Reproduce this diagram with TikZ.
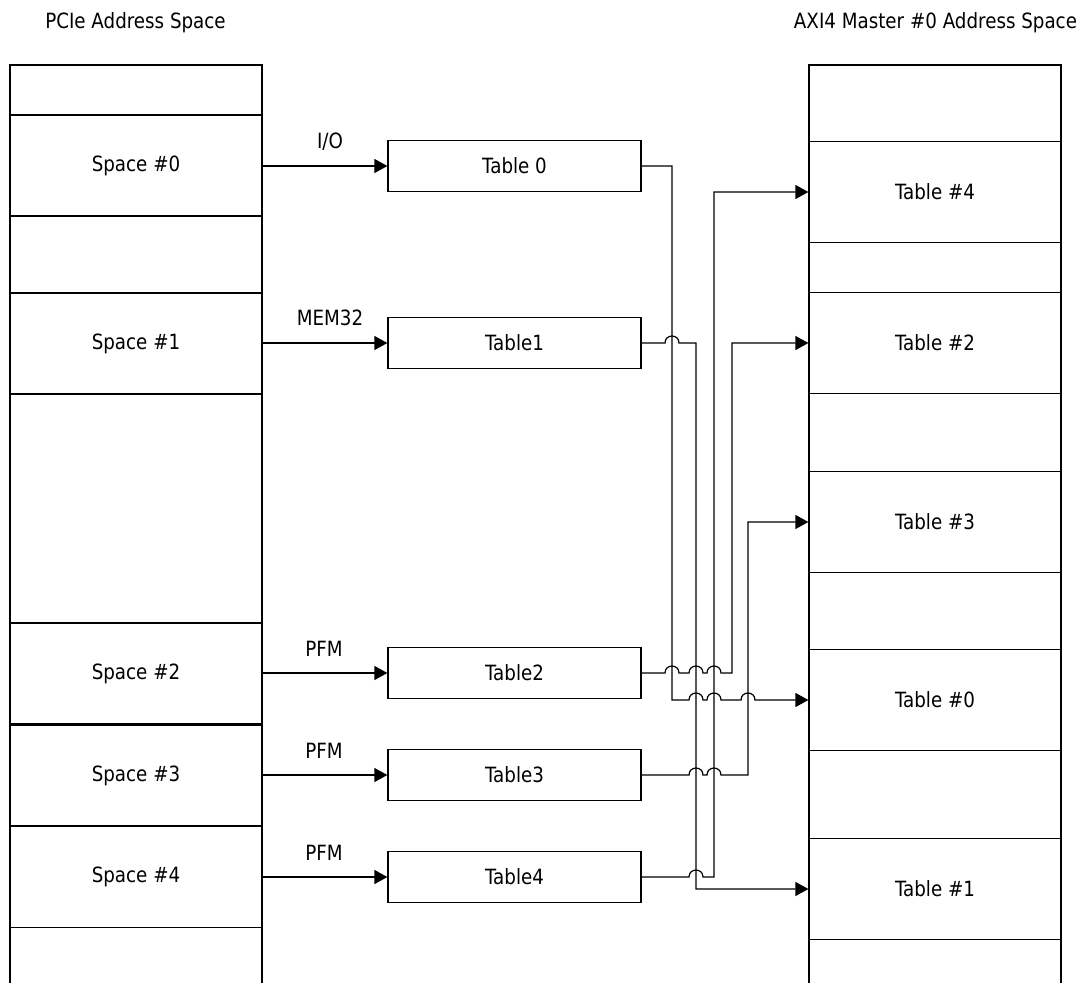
\documentclass[tikz,border=0pt]{standalone}
\usepackage{fontspec}
\setmainfont{DejaVu Sans}[FakeStretch=0.87]
\usetikzlibrary{arrows.meta}
\begin{document}
\begin{tikzpicture}[x=1pt,y=-1pt,line width=1.2pt,
  txt/.style={font=\fontsize{21}{24}\selectfont, inner sep=0pt},
  bigbox/.style={draw, minimum width=252pt, minimum height=101pt, inner sep=0pt, font=\fontsize{21}{24}\selectfont},
  midbox/.style={draw, minimum width=253pt, minimum height=51pt, inner sep=0pt, font=\fontsize{21}{24}\selectfont},
  arr/.style={-{Triangle[length=13pt,width=14pt]}}]
\useasboundingbox (0,0) rectangle (1088,983);
% headers
\node[txt, anchor=base] (hl) at (135.5,28) {PCIe Address Space};
\node[txt, anchor=base] (hr) at (935.5,28) {AXI4 Master \#0 Address Space};
% column outlines
\draw (10,983) -- (10,65) -- (262,65) -- (262,983);
\draw (809,983) -- (809,65) -- (1061,65) -- (1061,983);
% left boxes
\node[bigbox] (s0) at (136,165.5) {Space \#0};
\node[bigbox] (s1) at (136,343.5) {Space \#1};
\node[bigbox] (s2) at (136,673.5) {Space \#2};
\node[bigbox] (s3) at (136,775.5) {Space \#3};
\node[bigbox] (s4) at (136,877) {Space \#4};
% middle tables
\node[midbox] (t0) at (514.5,166) {Table 0};
\node[midbox] (t1) at (514.5,343) {Table1};
\node[midbox] (t2) at (514.5,673) {Table2};
\node[midbox] (t3) at (514.5,775) {Table3};
\node[midbox] (t4) at (514.5,877) {Table4};
% right boxes
\node[bigbox] (r4) at (935,192) {Table \#4};
\node[bigbox] (r2) at (935,343) {Table \#2};
\node[bigbox] (r3) at (935,522) {Table \#3};
\node[bigbox] (r0) at (935,700) {Table \#0};
\node[bigbox] (r1) at (935,889) {Table \#1};
% input arrows and labels
\draw[arr] (s0.east |- t0.west) -- (t0.west);
\draw[arr] (s1.east |- t1.west) -- (t1.west);
\draw[arr] (s2.east |- t2.west) -- (t2.west);
\draw[arr] (s3.east |- t3.west) -- (t3.west);
\draw[arr] (s4.east |- t4.west) -- (t4.west);
\node[txt] (l0) at (330,142) {I/O};
\node[txt] (l1) at (330,318) {MEM32};
\node[txt] (l2) at (324,649) {PFM};
\node[txt] (l3) at (324,751) {PFM};
\node[txt] (l4) at (324,853) {PFM};
% Table 0 -> Table #0
\draw[arr] (t0.east) -- (672,166) -- (672,700) -- (689,700)
  .. controls (689,690.7) and (703,690.7) .. (703,700) -- (707,700)
  .. controls (707,690.7) and (721,690.7) .. (721,700) -- (741,700)
  .. controls (741,690.7) and (755,690.7) .. (755,700) -- (r0.west);
% Table1 -> Table #1
\draw[arr] (t1.east) -- (665,343)
  .. controls (665,333.7) and (679,333.7) .. (679,343) -- (696,343) |- (r1.west);
% Table2 -> Table #2
\draw[arr] (t2.east) -- (665,673)
  .. controls (665,663.7) and (679,663.7) .. (679,673) -- (689,673)
  .. controls (689,663.7) and (703,663.7) .. (703,673) -- (707,673)
  .. controls (707,663.7) and (721,663.7) .. (721,673) -- (732,673) |- (r2.west);
% Table3 -> Table #3
\draw[arr] (t3.east) -- (689,775)
  .. controls (689,765.7) and (703,765.7) .. (703,775) -- (707,775)
  .. controls (707,765.7) and (721,765.7) .. (721,775) -- (748,775) |- (r3.west);
% Table4 -> Table #4
\draw[arr] (t4.east) -- (689,877)
  .. controls (689,867.7) and (703,867.7) .. (703,877) -- (714,877) |- (r4.west);
\end{tikzpicture}
\end{document}
